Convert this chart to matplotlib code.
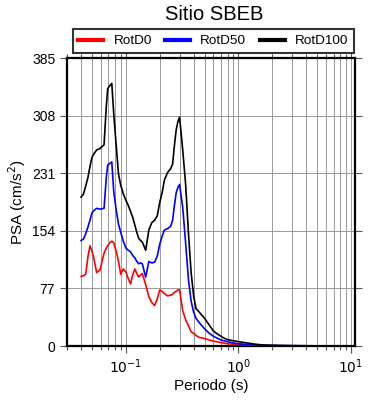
import matplotlib
matplotlib.use("Agg")
import matplotlib.pyplot as plt
from matplotlib.ticker import FixedLocator, LogLocator, NullFormatter

plt.rcParams['font.family'] = ['Liberation Sans', 'DejaVu Sans']

periods = [0.040, 0.042, 0.044, 0.046, 0.048, 0.050, 0.052, 0.055, 0.059, 0.064,
           0.067, 0.069, 0.072, 0.075, 0.078, 0.082, 0.086, 0.090, 0.095, 0.100,
           0.105, 0.110, 0.115, 0.120, 0.125, 0.130, 0.135, 0.140, 0.150, 0.160,
           0.170, 0.180, 0.190, 0.200, 0.210, 0.220, 0.235, 0.250, 0.260, 0.270,
           0.280, 0.290, 0.300, 0.320, 0.340, 0.360, 0.380, 0.400, 0.420, 0.450,
           0.500, 0.550, 0.600, 0.650, 0.700, 0.750, 0.800, 0.900, 1.000, 1.200,
           1.400, 1.600, 1.800, 2.000, 2.500, 3.000, 4.000, 5.000, 6.000, 7.500, 10.0]

rotd100 = [199, 203, 214, 225, 240, 252, 257, 262, 264, 269,
           320, 344, 348, 351, 311, 269, 230, 215, 203, 195,
           188, 180, 172, 162, 152, 144, 141, 139, 128, 155,
           165, 168, 174, 192, 205, 222, 232, 237, 243, 268,
           289, 300, 306, 262, 215, 150, 98, 67, 50, 45,
           37, 28, 20, 16, 13, 10.3, 8.5, 7, 5.8, 4,
           2.5, 1.5, 1.1, 0.9, 0.6, 0.45, 0.3, 0.2, 0.15, 0.1, 0.07]

rotd50 = [141, 143, 150, 159, 168, 178, 181, 184, 183, 184,
          225, 242, 244, 246, 207, 182, 163, 152, 140, 131,
          128, 126, 121, 118, 113, 110, 111, 110, 92, 113,
          111, 112, 120, 136, 147, 155, 157, 160, 168, 188,
          205, 212, 216, 185, 137, 88, 60, 45, 37, 31,
          23, 17, 13, 10.3, 8, 6.8, 5.8, 4, 3, 2,
          1.3, 1, 0.8, 0.7, 0.5, 0.4, 0.25, 0.18, 0.13, 0.09, 0.06]

rotd0 = [93, 94, 96, 119, 134, 127, 117, 98, 102, 124,
         131, 134, 138, 140, 138, 127, 113, 96, 103, 99,
         90, 83, 95, 103, 97, 92, 95, 97, 82, 66,
         58, 54, 63, 75, 73, 70, 67, 68, 69, 72,
         73, 75, 75, 47, 35, 27, 19, 17, 14, 11.5,
         10, 8, 6.5, 5.5, 4.5, 3.8, 3, 2.4, 2, 1.4,
         1, 0.8, 0.6, 0.5, 0.4, 0.3, 0.2, 0.15, 0.1, 0.08, 0.05]

series_names = ['RotD0', 'RotD50', 'RotD100']
series_colors = ['#ff0000', '#0000ff', '#000000']
yticks = [0, 77, 154, 231, 308, 385]

fig = plt.figure(figsize=(3.9, 4.0), dpi=100)
ax = fig.add_axes([67/390, 1-346/400, (355-67)/390, (346-58)/400])

for name, vals, c in zip(series_names, [rotd0, rotd50, rotd100], series_colors):
    ax.plot(periods, vals, color=c, lw=1.2, label=name, zorder=3)

ax.set_xscale('log')
ax.set_xlim(0.03, 10.85)
ax.set_ylim(0, 385)
ax.set_yticks(yticks)
ax.xaxis.set_major_locator(FixedLocator([0.1, 1, 10]))
ax.xaxis.set_minor_locator(LogLocator(base=10, subs=range(2, 10)))
ax.xaxis.set_minor_formatter(NullFormatter())
ax.set_xticks([0.1, 1, 10])
ax.set_xticklabels([r'$10^{-1}$', r'$10^{0}$', r'$10^{1}$'])

ax.grid(True, which='major', color='#999999', lw=0.7, zorder=1)
ax.grid(True, which='minor', axis='x', color='#999999', lw=0.7, zorder=1)
for s in ax.spines.values():
    s.set_linewidth(1.6)
ax.tick_params(which='both', direction='out', top=True, right=True, labelsize=10,
               width=0.8, color='#555555')
ax.tick_params(which='major', length=5)
ax.tick_params(which='minor', length=3)

ax.set_xlabel('Periodo (s)', fontsize=11, labelpad=2)
ax.set_ylabel('PSA (cm/s$^2$)', fontsize=11, labelpad=3)
fig.text(214/390, 1-20/400, 'Sitio SBEB', fontsize=14.5, ha='center', va='baseline')

leg = fig.legend(*ax.get_legend_handles_labels(), loc='upper left',
                 bbox_to_anchor=(73/390, 1-29.5/400), ncol=3, fontsize=9.7,
                 frameon=True, fancybox=False, edgecolor='black',
                 handlelength=1.85, handletextpad=0.75, borderpad=0.4,
                 borderaxespad=0.0, columnspacing=1.0)
leg.get_frame().set_linewidth(1.5)
for line in leg.get_lines():
    line.set_linewidth(3)

fig.savefig('out.png', dpi=100)
